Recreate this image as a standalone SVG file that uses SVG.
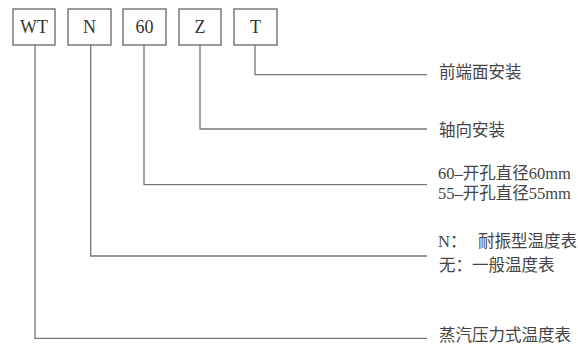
<svg xmlns="http://www.w3.org/2000/svg" width="578" height="347" viewBox="0 0 578 347">
<style>
.box{fill:#fff;stroke:#666;stroke-width:1.3}
.bt{font-family:"Liberation Serif","Noto Sans CJK SC",serif;font-size:18px;fill:#333;text-anchor:middle}
.lbl{font-family:"Liberation Serif","Noto Sans CJK SC",serif;font-size:16.5px;fill:#444}
.ln{fill:none;stroke:#777;stroke-width:1.3}
</style>
<rect width="578" height="347" fill="#fff"/>
<g id="wt"><rect class="box" x="13" y="9" width="42" height="36"/><text class="bt" x="34" y="33">WT</text></g>
<g id="n"><rect class="box" x="68" y="9" width="43" height="36"/><text class="bt" x="89.5" y="33">N</text></g>
<g id="s60"><rect class="box" x="123" y="9" width="43" height="36"/><text class="bt" x="144.5" y="33">60</text></g>
<g id="z"><rect class="box" x="179" y="9" width="42" height="36"/><text class="bt" x="200" y="33">Z</text></g>
<g id="t"><rect class="box" x="234" y="9" width="43" height="36"/><text class="bt" x="255.5" y="33">T</text></g>
<g id="connectors">
<polyline class="ln" points="255,45 255,74.7 427,74.7"/>
<polyline class="ln" points="200,45 200,129 427,129"/>
<polyline class="ln" points="144,45 144,184.7 427,184.7"/>
<polyline class="ln" points="90.7,45 90.7,256 427,256"/>
<polyline class="ln" points="35,45 35,338.3 427,338.3"/>
</g>
<g id="labels">
<text class="lbl" x="439" y="77.5">前端面安装</text>
<text class="lbl" x="439" y="136">轴向安装</text>
<text class="lbl" x="438" y="179">60–开孔直径60mm</text>
<text class="lbl" x="438" y="199">55–开孔直径55mm</text>
<text class="lbl" x="438" y="246.5">N：</text>
<text class="lbl" x="478" y="246.5">耐振型温度表</text>
<text class="lbl" x="439" y="271">无：一般温度表</text>
<text class="lbl" x="439" y="340.5">蒸汽压力式温度表</text>
</g>
</svg>
